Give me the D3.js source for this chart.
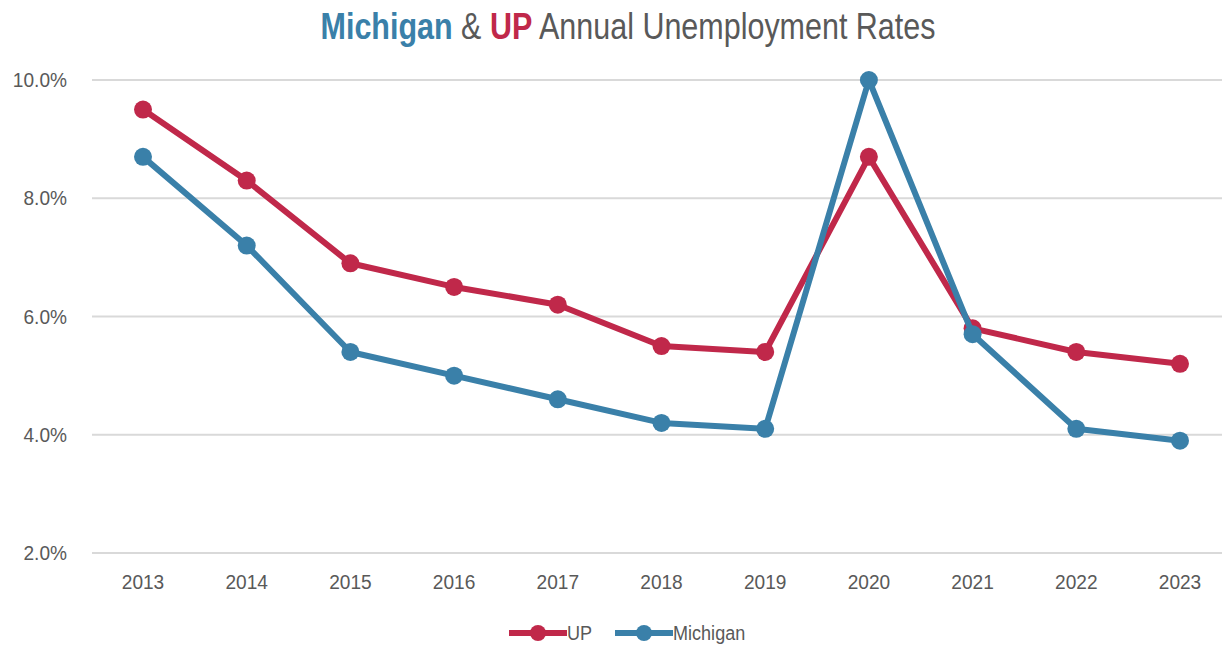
<!DOCTYPE html>
<html>
<head>
<meta charset="utf-8">
<script src="https://cdn.jsdelivr.net/npm/d3@7"></script>
<style>
body { margin:0; background:#fff; }
text { font-family: "Liberation Sans", Arial, sans-serif; }
</style>
</head>
<body>
<svg id="chart" width="1223" height="646"></svg>
<script>
var years = ["2013","2014","2015","2016","2017","2018","2019","2020","2021","2022","2023"];
var upRates = [9.5, 8.3, 6.9, 6.5, 6.2, 5.5, 5.4, 8.7, 5.8, 5.4, 5.2];
var michiganRates = [8.7, 7.2, 5.4, 5.0, 4.6, 4.2, 4.1, 10.0, 5.7, 4.1, 3.9];
var yTicks = [2, 4, 6, 8, 10];

var blue = "#3a80a9", red = "#c0284a", grey = "#595959";

var svg = d3.select("#chart");
var plotLeft = 92, plotRight = 1222, plotTop = 80, plotBottom = 553;
var sx = 0.91; // condense the text horizontally

var x = d3.scalePoint().domain(years).range([143, 1180]);
var y = d3.scaleLinear().domain([2, 10]).range([plotBottom, plotTop]);

function pos(px, py, s) { return "translate(" + px + "," + py + ") scale(" + s + ",1)"; }

// gridlines
svg.append("g").selectAll("line")
  .data(yTicks)
  .enter().append("line")
    .attr("x1", plotLeft).attr("x2", plotRight)
    .attr("y1", function(d) { return y(d); })
    .attr("y2", function(d) { return y(d); })
    .attr("stroke", "#d9d9d9")
    .attr("stroke-width", 2);

// y labels
svg.append("g").selectAll("text")
  .data(yTicks)
  .enter().append("text")
    .attr("transform", function(d) { return pos(67, y(d) + 7, sx); })
    .attr("text-anchor", "end")
    .attr("font-size", 21)
    .attr("fill", grey)
    .text(function(d) { return d.toFixed(1) + "%"; });

// x labels
svg.append("g").selectAll("text")
  .data(years)
  .enter().append("text")
    .attr("transform", function(d) { return pos(x(d), 589, sx); })
    .attr("text-anchor", "middle")
    .attr("font-size", 21)
    .attr("fill", grey)
    .text(function(d) { return d; });

var line = d3.line()
  .x(function(d, i) { return x(years[i]); })
  .y(function(d) { return y(d); });

function drawSeries(vals, color) {
  svg.append("path")
    .datum(vals)
    .attr("d", line)
    .attr("fill", "none")
    .attr("stroke", color)
    .attr("stroke-width", 6)
    .attr("stroke-linejoin", "round");
  svg.append("g").selectAll("circle")
    .data(vals)
    .enter().append("circle")
      .attr("cx", function(d, i) { return x(years[i]); })
      .attr("cy", function(d) { return y(d); })
      .attr("r", 9)
      .attr("fill", color);
}
drawSeries(upRates, red);
drawSeries(michiganRates, blue);

// title
var title = svg.append("text")
  .attr("transform", pos(628, 39, 0.824))
  .attr("text-anchor", "middle")
  .attr("font-size", 37)
  .attr("fill", grey);
title.append("tspan").attr("fill", blue).attr("font-weight", "bold").text("Michigan");
title.append("tspan").text(" & ");
title.append("tspan").attr("fill", red).attr("font-weight", "bold").text("UP");
title.append("tspan").text(" Annual  Unemployment  Rates");

// legend
var legend = [{name: "UP", color: red, x: 509}, {name: "Michigan", color: blue, x: 615}];
var lg = svg.append("g").selectAll("g")
  .data(legend)
  .enter().append("g")
    .attr("transform", function(d) { return "translate(" + d.x + ",633)"; });
lg.append("line")
  .attr("x1", 0).attr("x2", 58)
  .attr("stroke", function(d) { return d.color; })
  .attr("stroke-width", 6);
lg.append("circle")
  .attr("cx", 29).attr("r", 8)
  .attr("fill", function(d) { return d.color; });
lg.append("text")
  .attr("transform", pos(58, 7, 0.86))
  .attr("font-size", 21)
  .attr("fill", grey)
  .text(function(d) { return d.name; });
</script>
</body>
</html>
